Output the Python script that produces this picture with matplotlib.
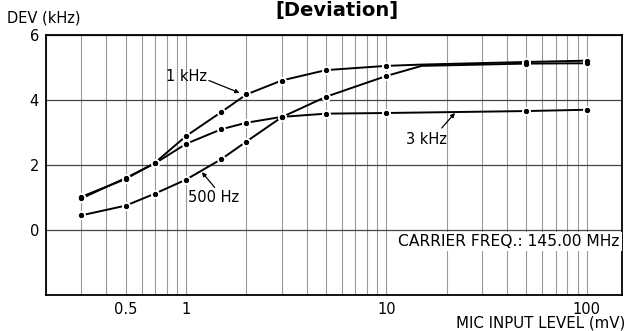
import numpy as np
import matplotlib
matplotlib.use("Agg")
import matplotlib.pyplot as plt
from matplotlib.ticker import FixedLocator, LogLocator, NullFormatter

plt.rcParams['font.family'] = ['DejaVu Sans']

# mic input level (mV) and deviation (kHz) for each modulation tone
x_1k = [0.3, 0.5, 0.7, 1, 1.5, 2, 3, 5, 10, 15, 50, 100]
dev_1k = [1.02, 1.57, 2.07, 2.89, 3.63, 4.17, 4.6, 4.92, 5.05, 5.09, 5.17, 5.21]
x_3k = [0.3, 0.5, 0.7, 1, 1.5, 2, 3, 5, 10, 50, 100]
dev_3k = [0.97, 1.6, 2.05, 2.65, 3.1, 3.3, 3.48, 3.58, 3.6, 3.66, 3.7]
x_500 = [0.3, 0.5, 0.7, 1, 1.5, 2, 3, 5, 10, 15, 50, 100]
dev_500 = [0.45, 0.75, 1.12, 1.55, 2.18, 2.72, 3.47, 4.1, 4.74, 5.05, 5.12, 5.13]

x_ticks = [0.5, 1, 10, 100]
x_ticklabels = ['0.5', '1', '10', '100']
y_ticks = [0, 2, 4, 6]

fig = plt.figure(figsize=(6.28, 3.31), dpi=100)
ax = fig.add_axes([46/628, 1-295/331, 576/628, 260/331])

ax.set_xscale('log')
ax.set_xlim(0.2, 150)
ax.set_ylim(-2, 6)

ax.xaxis.set_major_locator(FixedLocator(x_ticks))
ax.set_xticklabels(x_ticklabels)
ax.xaxis.set_minor_locator(LogLocator(base=10, subs=np.arange(2, 10)))
ax.xaxis.set_minor_formatter(NullFormatter())
ax.set_yticks(y_ticks)
ax.tick_params(which='both', length=0, labelsize=10.5)
ax.tick_params(axis='y', pad=5)
ax.tick_params(axis='x', pad=5)

ax.grid(which='both', axis='x', color='#999999', lw=0.8)
ax.grid(which='major', axis='y', color='#444444', lw=0.9)
ax.set_axisbelow(True)
for s in ax.spines.values():
    s.set_linewidth(1.3)
    s.set_color('black')

series = [(x_1k, dev_1k), (x_3k, dev_3k), (x_500, dev_500)]
for xs, ys in series:
    ax.plot(xs, ys, color='black', lw=1.4, zorder=3)
# small breaks in the line around each measured point, then the dot itself
for xs, ys in series:
    idx = [i for i, v in enumerate(xs) if v != 15]
    ax.plot(xs, ys, ls='none', marker='o', ms=6.5, mfc='white', mec='none',
            markevery=idx, zorder=4)
for xs, ys in series:
    idx = [i for i, v in enumerate(xs) if v != 15]
    ax.plot(xs, ys, ls='none', marker='o', ms=2.8, mfc='black', mec='black',
            markevery=idx, zorder=5)

arrow = dict(arrowstyle='-|>', color='black', lw=0.9, mutation_scale=6,
             shrinkA=0, shrinkB=0)
ax.text(1.0, 4.73, '1 kHz', fontsize=10.5, ha='center', va='center')
ax.annotate('', xy=(1.85, 4.22), xytext=(1.3, 4.6), arrowprops=arrow)
ax.text(15.9, 2.78, '3 kHz', fontsize=10.5, ha='center', va='center')
ax.annotate('', xy=(22, 3.6), xytext=(18.9, 3.14), arrowprops=arrow)
ax.text(1.38, 1.0, '500 Hz', fontsize=10.5, ha='center', va='center')
ax.annotate('', xy=(1.2, 1.78), xytext=(1.39, 1.31), arrowprops=arrow)

ax.text(0.996, 0.204, 'CARRIER FREQ.: 145.00 MHz', transform=ax.transAxes,
        fontsize=11.2, ha='right', va='center', zorder=6,
        bbox=dict(facecolor='white', edgecolor='none', pad=1.5))

fig.text(0.011, 0.946, 'DEV (kHz)', fontsize=10.5, ha='left', va='center')
fig.text(0.996, 0.024, 'MIC INPUT LEVEL (mV)', fontsize=10.8, ha='right', va='center')
fig.text(0.537, 0.967, '[Deviation]', fontsize=14, fontweight='bold',
         ha='center', va='center')

fig.savefig('out.png', dpi=100)
